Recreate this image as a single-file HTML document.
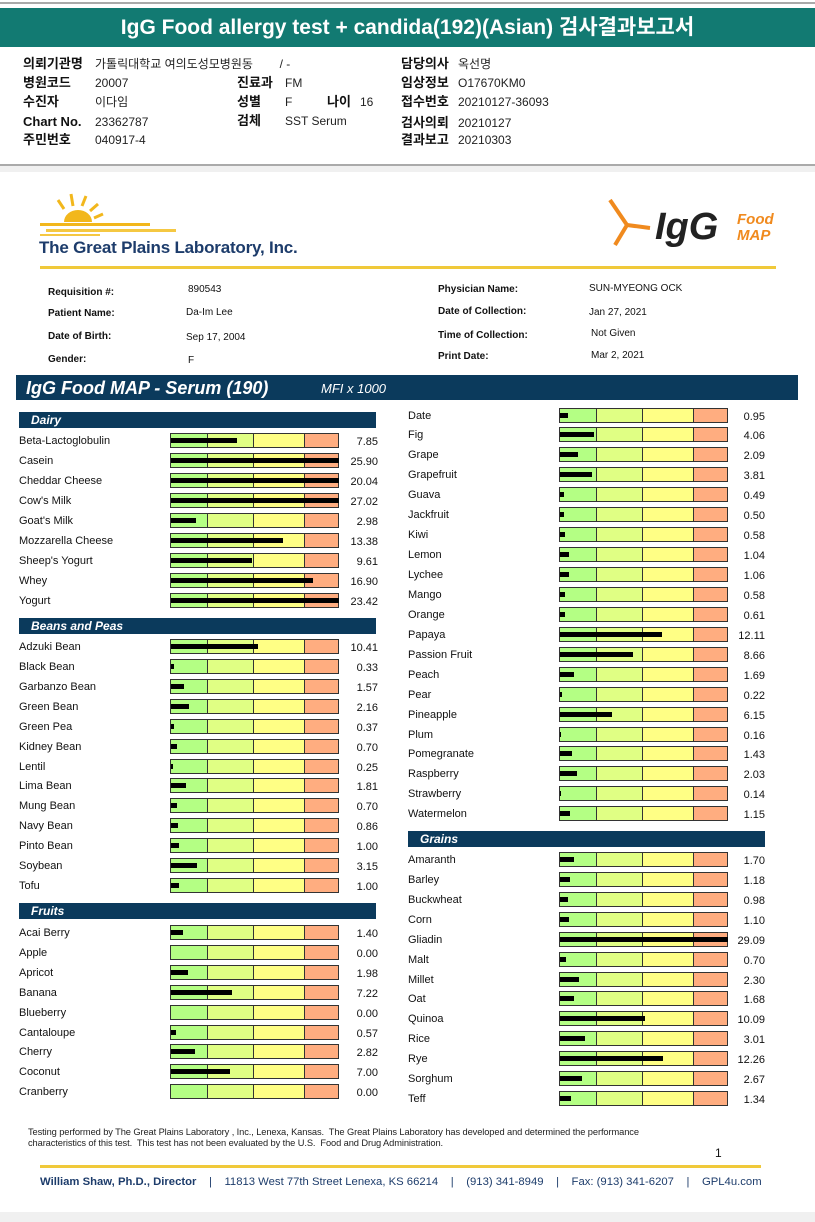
<!DOCTYPE html>
<html><head><meta charset="utf-8">
<style>
*{margin:0;padding:0;box-sizing:border-box}
body{width:815px;height:1222px;position:relative;background:#fff;font-family:"Liberation Sans","Noto Sans CJK KR",sans-serif;overflow:hidden;color:#111}
.a{position:absolute;white-space:nowrap}
.t{font-size:11px;line-height:14px;height:14px}
.k{font-size:13px;line-height:16px;font-weight:bold;color:#111}
.kv{font-size:12px;line-height:16px;color:#222}
.sec{position:absolute;background:#0b3a5c;color:#fff;font-weight:bold;font-style:italic;font-size:12px;line-height:16px;padding-left:12px;height:16px}
.box{position:absolute;height:15px;border:1px solid #333;display:flex}
.box div{height:100%;border-right:1px solid #333}
.box div:last-child{border-right:none}
.bar{position:absolute;height:5px;background:#000}
.pi{font-size:10px;line-height:12px}
.pb{font-size:10px;line-height:12px;font-weight:bold}
</style></head>
<body>
<div class="a" style="left:0;top:2px;width:815px;height:2px;background:#aaa"></div>
<div class="a" style="left:0;top:8px;width:815px;height:39px;background:#127a72;color:#fff;font-size:21px;font-weight:bold;text-align:center;line-height:39px">IgG Food allergy test + candida(192)(Asian) 검사결과보고서</div>

<div>
<div class="a k" style="left:23px;top:56px">의뢰기관명</div><div class="a kv" style="left:95px;top:56px">가톨릭대학교 여의도성모병원동 &nbsp;&nbsp;&nbsp;&nbsp;&nbsp;&nbsp; / -</div>
<div class="a k" style="left:23px;top:75px">병원코드</div><div class="a kv" style="left:95px;top:75px">20007</div>
<div class="a k" style="left:23px;top:94px">수진자</div><div class="a kv" style="left:95px;top:94px">이다임</div>
<div class="a k" style="left:23px;top:114px">Chart No.</div><div class="a kv" style="left:95px;top:114px">23362787</div>
<div class="a k" style="left:23px;top:132px">주민번호</div><div class="a kv" style="left:95px;top:132px">040917-4</div>
<div class="a k" style="left:237px;top:75px">진료과</div><div class="a kv" style="left:285px;top:75px">FM</div>
<div class="a k" style="left:237px;top:94px">성별</div><div class="a kv" style="left:285px;top:94px">F</div>
<div class="a k" style="left:327px;top:94px">나이</div><div class="a kv" style="left:360px;top:94px">16</div>
<div class="a k" style="left:237px;top:113px">검체</div><div class="a kv" style="left:285px;top:113px">SST Serum</div>
<div class="a k" style="left:401px;top:56px">담당의사</div><div class="a kv" style="left:458px;top:56px">옥선명</div>
<div class="a k" style="left:401px;top:75px">임상정보</div><div class="a kv" style="left:458px;top:75px">O17670KM0</div>
<div class="a k" style="left:401px;top:94px">접수번호</div><div class="a kv" style="left:458px;top:94px">20210127-36093</div>
<div class="a k" style="left:401px;top:115px">검사의뢰</div><div class="a kv" style="left:458px;top:115px">20210127</div>
<div class="a k" style="left:401px;top:132px">결과보고</div><div class="a kv" style="left:458px;top:132px">20210303</div>
</div>
<div class="a" style="left:0;top:164px;width:815px;height:2px;background:#aaa"></div>
<div class="a" style="left:0;top:166px;width:815px;height:6px;background:#f0f0f0"></div>

<svg class="a" style="left:38px;top:192px" width="140" height="45">
<g stroke="#f2b71c" stroke-width="3" fill="none"><line x1="35" y1="14" x2="33" y2="2"/><line x1="44" y1="14" x2="48" y2="4"/><line x1="52" y1="19" x2="60" y2="12"/><line x1="26" y1="17" x2="20" y2="8"/><line x1="56" y1="26" x2="65" y2="22"/></g>
<path d="M26 30 A14 12 0 0 1 54 30 Z" fill="#f2b71c"/>
<rect x="2" y="31" width="110" height="3" fill="#f2b71c"/><rect x="8" y="37" width="130" height="3" fill="#f5c842"/><rect x="2" y="42" width="60" height="2" fill="#f5c842"/>
</svg>
<div class="a" style="left:39px;top:237px;font-size:17px;font-weight:bold;color:#1d3c6b;line-height:22px;letter-spacing:-0.2px">The Great Plains Laboratory, Inc.</div>
<svg class="a" style="left:605px;top:195px" width="50" height="55">
<g stroke="#f08a1e" stroke-width="4" fill="none"><line x1="5" y1="5" x2="22" y2="30"/><line x1="22" y1="30" x2="45" y2="33"/><line x1="22" y1="30" x2="10" y2="50"/></g></svg>
<div class="a" style="left:655px;top:205px;font-size:38px;font-weight:bold;font-style:italic;color:#222;line-height:44px">IgG</div>
<div class="a" style="left:737px;top:212px;font-size:15px;font-weight:bold;font-style:italic;color:#f08a1e;line-height:16px">Food<br>MAP</div>
<div class="a" style="left:40px;top:266px;width:736px;height:3px;background:#f0c93a"></div>

<div>
<div class="a pb" style="left:48px;top:287px">Requisition #:</div><div class="a pi" style="left:188px;top:284px">890543</div>
<div class="a pb" style="left:48px;top:308px">Patient Name:</div><div class="a pi" style="left:186px;top:307px">Da-Im Lee</div>
<div class="a pb" style="left:48px;top:331px">Date of Birth:</div><div class="a pi" style="left:186px;top:332px">Sep 17, 2004</div>
<div class="a pb" style="left:48px;top:354px">Gender:</div><div class="a pi" style="left:188px;top:355px">F</div>
<div class="a pb" style="left:438px;top:284px">Physician Name:</div><div class="a pi" style="left:589px;top:283px">SUN-MYEONG OCK</div>
<div class="a pb" style="left:438px;top:306px">Date of Collection:</div><div class="a pi" style="left:589px;top:307px">Jan 27, 2021</div>
<div class="a pb" style="left:438px;top:330px">Time of Collection:</div><div class="a pi" style="left:591px;top:328px">Not Given</div>
<div class="a pb" style="left:438px;top:351px">Print Date:</div><div class="a pi" style="left:591px;top:350px">Mar 2, 2021</div>
</div>

<div class="a" style="left:16px;top:375px;width:782px;height:25px;background:#0b3a5c;color:#fff;font-style:italic">
<span class="a" style="left:10px;top:2px;font-size:18px;font-weight:bold;line-height:22px">IgG Food MAP - Serum (190)</span>
<span class="a" style="left:305px;top:6px;font-size:13px;line-height:16px">MFI x 1000</span></div>

<div id="chart"></div>

<div class="a" style="left:28px;top:1127px;font-size:9.3px;line-height:11px;color:#222;letter-spacing:-0.1px">Testing performed by The Great Plains Laboratory , Inc., Lenexa, Kansas.&nbsp; The Great Plains Laboratory has developed and determined the performance<br>characteristics of this test.&nbsp; This test has not been evaluated by the U.S.&nbsp; Food and Drug Administration.</div>
<div class="a" style="left:715px;top:1146px;font-size:12px">1</div>
<div class="a" style="left:40px;top:1165px;width:721px;height:3px;background:#f0c93a"></div>
<div class="a" style="left:40px;top:1175px;font-size:11.3px;line-height:14px;color:#1d3c6b"><b>William Shaw, Ph.D., Director</b> &nbsp;&nbsp; | &nbsp;&nbsp; 11813 West 77th Street Lenexa, KS 66214 &nbsp;&nbsp; | &nbsp;&nbsp; (913) 341-8949 &nbsp;&nbsp; | &nbsp;&nbsp; Fax: (913) 341-6207 &nbsp;&nbsp; | &nbsp;&nbsp; GPL4u.com</div>
<div class="a" style="left:0;top:1212px;width:815px;height:10px;background:#f0f0f0"></div>

<script>
const dairyNames=["Beta-Lactoglobulin","Casein","Cheddar Cheese","Cow's Milk","Goat's Milk","Mozzarella Cheese","Sheep's Yogurt","Whey","Yogurt"];
const dairyVals=[7.85,25.90,20.04,27.02,2.98,13.38,9.61,16.90,23.42];
const beanNames=["Adzuki Bean","Black Bean","Garbanzo Bean","Green Bean","Green Pea","Kidney Bean","Lentil","Lima Bean","Mung Bean","Navy Bean","Pinto Bean","Soybean","Tofu"];
const beanVals=[10.41,0.33,1.57,2.16,0.37,0.70,0.25,1.81,0.70,0.86,1.00,3.15,1.00];
const fruitNames=["Acai Berry","Apple","Apricot","Banana","Blueberry","Cantaloupe","Cherry","Coconut","Cranberry"];
const fruitVals=[1.40,0.00,1.98,7.22,0.00,0.57,2.82,7.00,0.00];
const fruit2Names=["Date","Fig","Grape","Grapefruit","Guava","Jackfruit","Kiwi","Lemon","Lychee","Mango","Orange","Papaya","Passion Fruit","Peach","Pear","Pineapple","Plum","Pomegranate","Raspberry","Strawberry","Watermelon"];
const fruit2Vals=[0.95,4.06,2.09,3.81,0.49,0.50,0.58,1.04,1.06,0.58,0.61,12.11,8.66,1.69,0.22,6.15,0.16,1.43,2.03,0.14,1.15];
const grainNames=["Amaranth","Barley","Buckwheat","Corn","Gliadin","Malt","Millet","Oat","Quinoa","Rice","Rye","Sorghum","Teff"];
const grainVals=[1.70,1.18,0.98,1.10,29.09,0.70,2.30,1.68,10.09,3.01,12.26,2.67,1.34];

const chart=document.getElementById('chart');
function xScale(v){return Math.min(v,20)*8.4;}
function mk(cls,style,txt){const d=document.createElement('div');d.className=cls;d.style.cssText=style;if(txt!==undefined)d.textContent=txt;chart.appendChild(d);return d;}
function section(title,x,y,w){
  const h=mk('sec',`left:${x}px;top:${y}px;width:${w}px`,title);
  
  
}
function rows(names,vals,labX,boxX,valX,y0,step,key){
  names.forEach((n,i)=>{
    const cy=y0+i*step;
    const l=mk('a t',`left:${labX}px;top:${cy-6}px`,n);
    
    
    const b=mk('box',`left:${boxX}px;top:${cy-7}px;width:169px`);
    
    
    b.innerHTML='<div style="width:37px;background:#b4ff84"></div><div style="width:46px;background:#e0ff84"></div><div style="width:51px;background:#ffff85"></div><div style="flex:1;background:#ffad80"></div>';
    const w=xScale(vals[i]);
    if(w>0){const bar=mk('bar',`left:${boxX+1}px;top:${cy-2}px;width:${w}px`);
    
    }
    const v=mk('a t',`left:${valX}px;top:${cy-5}px;width:40px;text-align:right`,vals[i].toFixed(2));
    
    
  });
}
section('Dairy',19,412,357);
rows(dairyNames,dairyVals,19,170,338,440,20,'dairy');
section('Beans and Peas',19,618,357);
rows(beanNames,beanVals,19,170,338,646,19.92,'bean');
section('Fruits',19,903,357);
rows(fruitNames,fruitVals,19,170,338,932,19.9,'fruit');
rows(fruit2Names,fruit2Vals,408,559,725,414.5,19.94,'fruit');
section('Grains',408,831,357);
rows(grainNames,grainVals,408,559,725,859,19.92,'grain');
</script>
</body></html>
